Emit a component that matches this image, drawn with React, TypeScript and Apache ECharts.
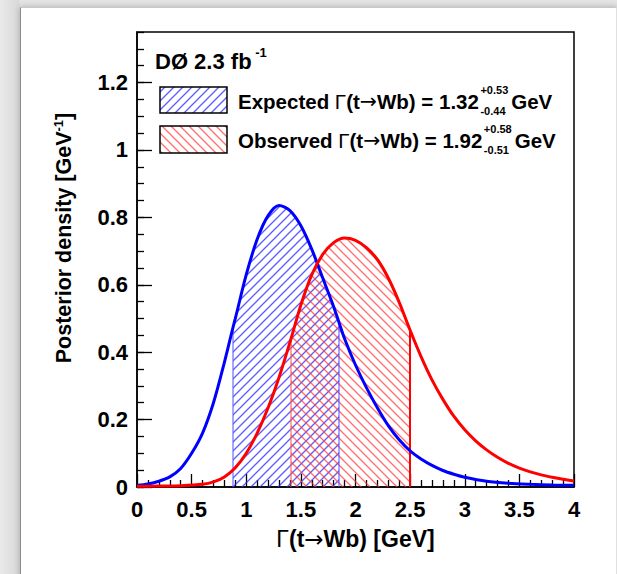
import React, { useEffect, useRef } from "react";
import * as echarts from "echarts";

// Posterior density curves: [Γ (GeV), density (1/GeV)]
const expectedCurve: [number, number][] = [
  [0, 0.005], [0.1, 0.009], [0.2, 0.017], [0.3, 0.03], [0.4, 0.055], [0.5, 0.1],
  [0.6, 0.16], [0.7, 0.25], [0.8, 0.37], [0.88, 0.475], [0.9, 0.5], [1.0, 0.63],
  [1.1, 0.735], [1.2, 0.805], [1.3, 0.835], [1.4, 0.82], [1.5, 0.775], [1.6, 0.705],
  [1.7, 0.62], [1.8, 0.535], [1.85, 0.487], [1.9, 0.44], [2.0, 0.362], [2.1, 0.295],
  [2.2, 0.235], [2.3, 0.182], [2.4, 0.14], [2.5, 0.107], [2.6, 0.083], [2.7, 0.064],
  [2.8, 0.049], [2.9, 0.038], [3.0, 0.029], [3.2, 0.017], [3.4, 0.011], [3.6, 0.008],
  [3.8, 0.006], [4.0, 0.005],
];
const observedCurve: [number, number][] = [
  [0, 0.002], [0.2, 0.003], [0.4, 0.004], [0.6, 0.008], [0.7, 0.015], [0.8, 0.03],
  [0.9, 0.057], [1.0, 0.1], [1.1, 0.16], [1.2, 0.235], [1.3, 0.325], [1.41, 0.44],
  [1.5, 0.54], [1.6, 0.63], [1.7, 0.69], [1.8, 0.725], [1.9, 0.739], [2.0, 0.732],
  [2.1, 0.71], [2.2, 0.675], [2.3, 0.62], [2.4, 0.548], [2.5, 0.465], [2.6, 0.387],
  [2.7, 0.318], [2.8, 0.26], [2.9, 0.21], [3.0, 0.17], [3.1, 0.137], [3.2, 0.11],
  [3.3, 0.088], [3.4, 0.07], [3.5, 0.056], [3.6, 0.045], [3.7, 0.036], [3.8, 0.029],
  [3.9, 0.023], [4.0, 0.018],
];
// 68% intervals
const expectedBand: [number, number] = [0.88, 1.85];
const observedBand: [number, number] = [1.41, 2.5];

const legendTitle = "DØ 2.3 fb";
const legendTitleSup = "-1";
const expectedName = "Expected";
const expectedValue = "1.32";
const expectedUp = "+0.53";
const expectedDown = "-0.44";
const observedName = "Observed";
const observedValue = "1.92";
const observedUp = "+0.58";
const observedDown = "-0.51";
const unitLabel = "GeV";

const FONT = "'Liberation Sans', Arial, Helvetica, sans-serif";
const ARROW_FONT = "'DejaVu Sans', sans-serif";

function hatch(color: string, dir: "/" | "\\") {
  const s = 9;
  const c = document.createElement("canvas");
  c.width = s;
  c.height = s;
  const g = c.getContext("2d")!;
  g.strokeStyle = color;
  g.lineWidth = 1.35;
  g.beginPath();
  if (dir === "/") {
    g.moveTo(0, s); g.lineTo(s, 0);
    g.moveTo(-2, 2); g.lineTo(2, -2);
    g.moveTo(s - 2, s + 2); g.lineTo(s + 2, s - 2);
  } else {
    g.moveTo(0, 0); g.lineTo(s, s);
    g.moveTo(-2, s - 2); g.lineTo(2, s + 2);
    g.moveTo(s - 2, -2); g.lineTo(s + 2, 2);
  }
  g.stroke();
  return { image: c, repeat: "repeat", imageWidth: s, imageHeight: s } as any;
}

function yAt(curve: [number, number][], x: number) {
  const p = curve.find((q) => Math.abs(q[0] - x) < 1e-9);
  return p ? p[1] : 0;
}

const measureCtx = () => document.createElement("canvas").getContext("2d")!;

export default function App() {
  const ref = useRef<HTMLDivElement>(null);
  useEffect(() => {
    if (!ref.current) return;
    const chart = echarts.init(ref.current, undefined, { renderer: "svg" });
    const blueHatch = hatch("rgba(40,40,255,0.75)", "/");
    const redHatch = hatch("rgba(255,50,50,0.7)", "\\");
    const blueHatchL = hatch("rgba(40,40,255,0.75)", "/");
    const redHatchL = hatch("rgba(255,50,50,0.7)", "\\");

    const LS = 20.5; // legend font size
    const richStyles: Record<string, any> = {
      a: { fontFamily: FONT, fontWeight: "bold", fontSize: LS, fill: "#000" },
      g: { fontFamily: FONT, fontWeight: "normal", fontSize: LS, fill: "#000" },
      r: { fontFamily: ARROW_FONT, fontWeight: "normal", fontSize: LS, fill: "#000" },
    };
    const mctx = measureCtx();
    const segWidth = (key: string, text: string) => {
      const st = richStyles[key];
      mctx.font = `${st.fontWeight} ${st.fontSize}px ${st.fontFamily}`;
      return mctx.measureText(text).width;
    };
    const supFont = `bold 11px ${FONT}`;
    const supWidth = (t: string) => {
      mctx.font = supFont;
      return mctx.measureText(t).width;
    };

    const legendLine = (name: string, value: string, up: string, down: string, y: number) => {
      const segs: [string, string][] = [
        ["a", name + " "], ["g", "Γ"], ["a", "(t"], ["r", "→"], ["a", "Wb) = " + value],
      ];
      const x0 = 238;
      const w = segs.reduce((s, [k, t]) => s + segWidth(k, t), 0);
      const xs = x0 + w + 1.5;
      const xg = xs + Math.max(supWidth(up), supWidth(down)) + 3;
      return [
        {
          type: "text",
          x: x0,
          y,
          style: {
            text: segs.map(([k, t]) => `{${k}|${t}}`).join(""),
            rich: richStyles,
            textVerticalAlign: "middle",
          },
        },
        { type: "text", x: xs, y: y - 11, style: { text: up, font: supFont, fill: "#000", textVerticalAlign: "middle" } },
        { type: "text", x: xs, y: y + 10, style: { text: down, font: supFont, fill: "#000", textVerticalAlign: "middle" } },
        { type: "text", x: xg, y, style: { text: unitLabel, font: `bold ${LS}px ${FONT}`, fill: "#000", textVerticalAlign: "middle" } },
      ];
    };

    const band = (
      curve: [number, number][],
      b: [number, number],
      pattern: any,
      edgeL: string,
      edgeR: string
    ) => ({
      type: "line",
      data: curve.filter((p) => p[0] >= b[0] - 1e-9 && p[0] <= b[1] + 1e-9),
      smooth: 0.3,
      symbol: "none",
      silent: true,
      lineStyle: { width: 0, opacity: 0 },
      areaStyle: { color: pattern, opacity: 1, origin: 0 },
      markLine: {
        silent: true,
        symbol: ["none", "none"],
        label: { show: false },
        animation: false,
        data: [
          [
            { coord: [b[0], 0], lineStyle: { color: edgeL, width: 2, type: "solid" } },
            { coord: [b[0], yAt(curve, b[0])] },
          ],
          [
            { coord: [b[1], 0], lineStyle: { color: edgeR, width: 2, type: "solid" } },
            { coord: [b[1], yAt(curve, b[1])] },
          ],
        ],
      },
    });

    const axisRich = {
      a: { fontFamily: FONT, fontWeight: "bold", fontSize: 23, color: "#000" },
      g: { fontFamily: FONT, fontWeight: "normal", fontSize: 23, color: "#000" },
      r: { fontFamily: ARROW_FONT, fontWeight: "normal", fontSize: 23, color: "#000" },
    };

    chart.setOption({
      animation: false,
      backgroundColor: "transparent",
      grid: {
        left: 137,
        top: 32,
        right: 43,
        bottom: 87,
        show: true,
        borderColor: "#000",
        borderWidth: 1.5,
        backgroundColor: "transparent",
      },
      xAxis: {
        type: "value",
        min: 0,
        max: 4,
        interval: 0.5,
        name: "{g|Γ}{a|(t}{r|→}{a|Wb) [GeV]}",
        nameLocation: "middle",
        nameGap: 40,
        nameTextStyle: { rich: axisRich },
        axisLine: { show: true, lineStyle: { color: "#000", width: 1.5 } },
        axisTick: { show: true, inside: true, length: 13, lineStyle: { color: "#000", width: 1.3 } },
        minorTick: { show: true, splitNumber: 5, length: 7, lineStyle: { color: "#000", width: 1.3 } },
        axisLabel: { fontFamily: FONT, fontWeight: "bold", fontSize: 22, color: "#000", margin: 11 },
        splitLine: { show: false },
        minorSplitLine: { show: false },
      },
      yAxis: [
        {
          type: "value",
          min: 0,
          max: 1.35,
          interval: 0.2,
          position: "left",
          axisLine: { show: true, lineStyle: { color: "#000", width: 1.5 } },
          axisTick: { show: true, inside: true, length: 15, lineStyle: { color: "#000", width: 1.3 } },
          axisLabel: {
            fontFamily: FONT,
            fontWeight: "bold",
            fontSize: 22,
            color: "#000",
            margin: 9,
            showMaxLabel: false,
          },
          splitLine: { show: false },
        },
        {
          type: "value",
          min: 0,
          max: 1.35,
          interval: 0.05,
          position: "left",
          axisLine: { show: false },
          axisTick: { show: true, inside: true, length: 7, lineStyle: { color: "#000", width: 1.3 } },
          axisLabel: { show: false },
          splitLine: { show: false },
        },
      ],
      series: [
        band(expectedCurve, expectedBand, blueHatch, "rgba(80,80,255,0.5)", "rgba(80,80,255,0.5)"),
        band(observedCurve, observedBand, redHatch, "rgba(255,80,80,0.5)", "#ff0000"),
        {
          type: "line",
          data: expectedCurve,
          smooth: 0.3,
          symbol: "none",
          lineStyle: { color: "#0000ff", width: 3 },
          z: 5,
        },
        {
          type: "line",
          data: observedCurve,
          smooth: 0.3,
          symbol: "none",
          lineStyle: { color: "#ff0000", width: 3 },
          z: 6,
        },
      ],
      graphic: [
        {
          type: "text",
          x: 64,
          y: 238,
          rotation: Math.PI / 2,
          style: {
            text: "{a|Posterior density [GeV}{s|-1}{a|]}",
            textAlign: "center",
            textVerticalAlign: "middle",
            rich: {
              a: { fontFamily: FONT, fontWeight: "bold", fontSize: 21.5, fill: "#000", lineHeight: 24 },
              s: { fontFamily: FONT, fontWeight: "bold", fontSize: 13, fill: "#000", verticalAlign: "top", lineHeight: 24, padding: [0, 0, 10, 0] },
            },
          },
        },
        {
          type: "text",
          x: 155,
          y: 61,
          style: {
            text: `{a|${legendTitle}}{s| ${legendTitleSup}}`,
            textVerticalAlign: "middle",
            rich: {
              a: { fontFamily: FONT, fontWeight: "bold", fontSize: 22, fill: "#000", lineHeight: 30 },
              s: { fontFamily: FONT, fontWeight: "bold", fontSize: 13, fill: "#000", lineHeight: 14, verticalAlign: "top" },
            },
          },
        },
        {
          type: "rect",
          shape: { x: 160, y: 87, width: 67, height: 26 },
          style: { fill: blueHatchL, stroke: "#000", lineWidth: 1.5 },
        },
        {
          type: "rect",
          shape: { x: 160, y: 126, width: 67, height: 27 },
          style: { fill: redHatchL, stroke: "#000", lineWidth: 1.5 },
        },
        ...legendLine(expectedName, expectedValue, expectedUp, expectedDown, 101),
        ...legendLine(observedName, observedValue, observedUp, observedDown, 140),
      ],
    });
    return () => chart.dispose();
  }, []);

  return (
    <div
      style={{
        position: "fixed",
        left: 0,
        top: 0,
        width: 617,
        height: 574,
        background: "linear-gradient(90deg, #e9e9e9 0px, #d9d9d9 19px, #e4e4e4 20px)",
        overflow: "hidden",
      }}
    >
      <div
        style={{
          position: "absolute",
          left: 20,
          top: 7,
          width: 595,
          height: 580,
          background: "#fff",
          borderLeft: "1px solid #8a8a8a",
          borderTop: "1px solid #c8c8c8",
          borderRight: "1px solid #e0e0e0",
          boxShadow: "0 0 6px rgba(0,0,0,0.25)",
        }}
      />
      <div ref={ref} style={{ position: "absolute", left: 0, top: 0, width: 617, height: 574 }} />
    </div>
  );
}
